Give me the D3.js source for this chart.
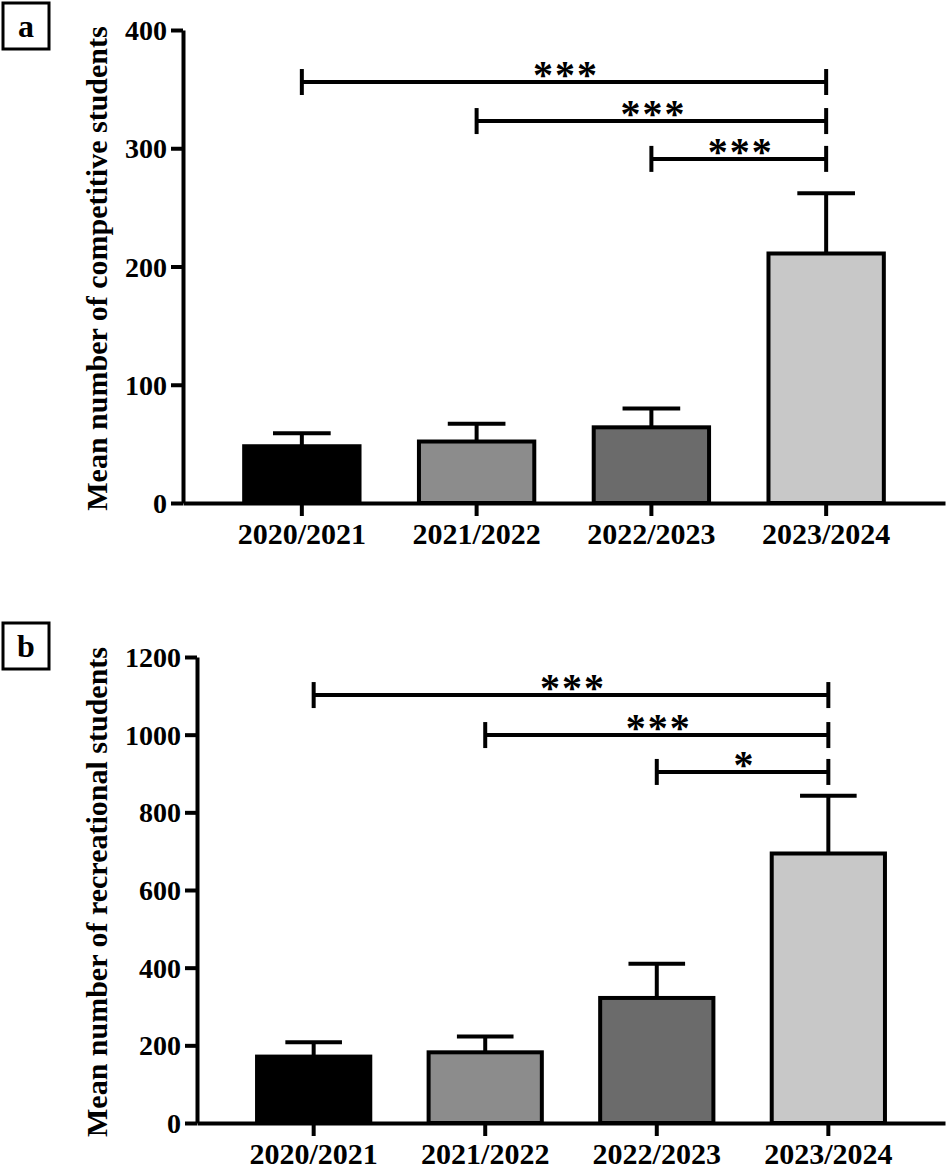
<!DOCTYPE html>
<html>
<head>
<meta charset="utf-8">
<script src="https://cdn.jsdelivr.net/npm/d3@7"></script>
<style>
  body { margin: 0; background: #fff; }
  svg text { font-family: "Liberation Serif", "Times New Roman", serif; font-weight: bold; fill: #000; }
</style>
</head>
<body>
<svg id="chart" width="948" height="1169"></svg>
<script>
var categories = ["2020/2021", "2021/2022", "2022/2023", "2023/2024"];
var barColors = ["#000000", "#8c8c8c", "#6b6b6b", "#c8c8c8"];

// panel a - competitive
var competitiveMean = [48, 52, 64, 211];
var competitiveErr = [11, 15, 16, 51];
var competitiveTicks = [0, 100, 200, 300, 400];
var competitiveSigFrom = [0, 1, 2];
var competitiveSigY = [356, 323, 291];
var competitiveSigLabel = ["***", "***", "***"];

// panel b - recreational
var recreationalMean = [171, 182, 322, 694];
var recreationalErr = [37, 41, 88, 149];
var recreationalTicks = [0, 200, 400, 600, 800, 1000, 1200];
var recreationalSigFrom = [0, 1, 2];
var recreationalSigY = [1102, 999, 904];
var recreationalSigLabel = ["***", "***", "*"];

var svg = d3.select("#chart");

function drawPanel(p) {
  var g = svg.append("g");

  var x = d3.scaleBand()
    .domain(categories)
    .range([p.left, 945])
    .paddingInner(0.34)
    .paddingOuter(0.35);

  var y = d3.scaleLinear()
    .domain([0, p.max])
    .range([p.bottom, p.top]);

  // bars
  g.selectAll(".bar")
    .data(p.mean)
    .enter().append("rect")
    .attr("x", function(d, i) { return x(categories[i]); })
    .attr("y", function(d) { return y(d); })
    .attr("width", x.bandwidth())
    .attr("height", function(d) { return y(0) - y(d); })
    .attr("fill", function(d, i) { return barColors[i]; })
    .attr("stroke", "#000")
    .attr("stroke-width", 4);

  // error bars (upper only)
  var cx = function(i) { return x(categories[i]) + x.bandwidth() / 2; };
  var capW = x.bandwidth() / 2;
  p.mean.forEach(function(m, i) {
    g.append("line")
      .attr("x1", cx(i)).attr("x2", cx(i))
      .attr("y1", y(m)).attr("y2", y(m + p.err[i]))
      .attr("stroke", "#000").attr("stroke-width", 4);
    g.append("line")
      .attr("x1", cx(i) - capW / 2).attr("x2", cx(i) + capW / 2)
      .attr("y1", y(m + p.err[i])).attr("y2", y(m + p.err[i]))
      .attr("stroke", "#000").attr("stroke-width", 4);
  });

  // significance brackets
  p.sigFrom.forEach(function(f, k) {
    var yy = y(p.sigY[k]);
    var x1 = cx(f), x2 = cx(3);
    g.append("line")
      .attr("x1", x1).attr("x2", x2).attr("y1", yy).attr("y2", yy)
      .attr("stroke", "#000").attr("stroke-width", 4);
    [x1, x2].forEach(function(xx) {
      g.append("line")
        .attr("x1", xx).attr("x2", xx).attr("y1", yy - 13).attr("y2", yy + 13)
        .attr("stroke", "#000").attr("stroke-width", 4);
    });
    g.append("text")
      .attr("x", (x1 + x2) / 2 + 2)
      .attr("y", yy + 6)
      .attr("text-anchor", "middle")
      .style("font-size", "40px")
      .style("letter-spacing", "2px")
      .text(p.sigLabel[k]);
  });

  // y axis
  var yAxis = g.append("g")
    .attr("transform", "translate(" + p.left + ",0)")
    .call(d3.axisLeft(y).tickValues(p.ticks).tickFormat(d3.format("d"))
      .tickSize(12).tickSizeOuter(0).tickPadding(4));
  yAxis.select(".domain").attr("stroke-width", 4);
  yAxis.selectAll(".tick line").attr("stroke-width", 4);
  yAxis.selectAll(".tick text").style("font-size", "28px").attr("dy", "0.34em");

  // x axis
  var xAxis = g.append("g")
    .attr("transform", "translate(0," + p.bottom + ")")
    .call(d3.axisBottom(x).tickSize(13).tickSizeOuter(0).tickPadding(0));
  xAxis.select(".domain").attr("stroke-width", 4);
  xAxis.selectAll(".tick line").attr("stroke-width", 4);
  xAxis.selectAll(".tick text").style("font-size", "30px").attr("dy", "0.92em");

  // y title
  g.append("text")
    .attr("transform", "translate(107," + ((p.top + p.bottom) / 2 + 2) + ") rotate(-90)")
    .attr("text-anchor", "middle")
    .style("font-size", "30px")
    .text(p.title);

  // panel letter box
  g.append("rect")
    .attr("x", 3).attr("y", p.boxY).attr("width", 46).attr("height", 46)
    .attr("fill", "none").attr("stroke", "#000").attr("stroke-width", 3);
  g.append("text")
    .attr("x", 26).attr("y", p.boxY + 34)
    .attr("text-anchor", "middle")
    .style("font-size", "32px")
    .text(p.letter);
}

drawPanel({
  left: 183, top: 30, bottom: 503, max: 400,
  mean: competitiveMean, err: competitiveErr, ticks: competitiveTicks,
  sigFrom: competitiveSigFrom, sigY: competitiveSigY, sigLabel: competitiveSigLabel,
  title: "Mean number of competitive students", letter: "a", boxY: 3
});

drawPanel({
  left: 197, top: 657, bottom: 1123, max: 1200,
  mean: recreationalMean, err: recreationalErr, ticks: recreationalTicks,
  sigFrom: recreationalSigFrom, sigY: recreationalSigY, sigLabel: recreationalSigLabel,
  title: "Mean number of recreational students", letter: "b", boxY: 623
});
</script>
</body>
</html>
